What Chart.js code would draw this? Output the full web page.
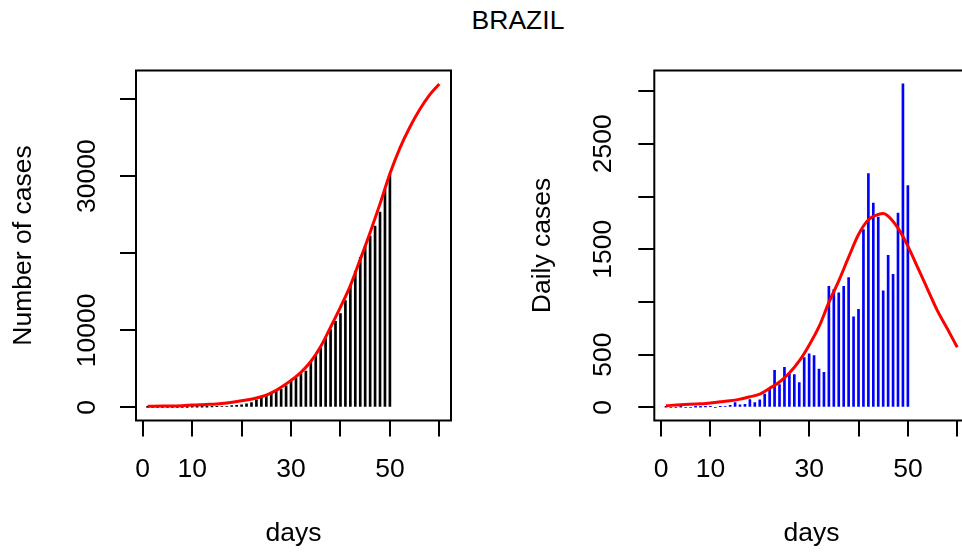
<!DOCTYPE html>
<html>
<head>
<meta charset="utf-8">
<script src="https://cdn.jsdelivr.net/npm/chart.js@4.4.1/dist/chart.umd.min.js"></script>
<style>
html, body { margin: 0; padding: 0; background: #fff; overflow: hidden; width: 962px; height: 555px; }
#title { position: absolute; left: 418px; width: 200px; top: 5px; line-height: 30px; text-align: center;
         font: 26.5px "Liberation Sans", Arial, sans-serif; color: #000; }
canvas { position: absolute; top: 0; }
#cum { left: 0; }
#daily { left: 481px; }
</style>
</head>
<body>
<div id="title">BRAZIL</div>
<canvas id="cum" width="481" height="555"></canvas>
<canvas id="daily" width="500" height="555"></canvas>
<script>
// observed days 1..50
let days = [1,2,3,4,5,6,7,8,9,10,11,12,13,14,15,16,17,18,19,20,21,22,23,24,25,
            26,27,28,29,30,31,32,33,34,35,36,37,38,39,40,41,42,43,44,45,46,47,48,49,50];

let cumCases = [1,1,1,2,2,2,3,4,9,15,15,21,31,51,96,120,148,222,268,340,
                465,637,987,1200,1580,1900,2200,2350,2800,3380,3840,4340,4720,5840,6720,
                7700,8920,10080,11160,12160,13870,15840,17680,19450,20860,22230,23510,25340,28300,30260];

let dailyCases = [1,0,0,1,0,0,1,1,5,6,0,6,10,20,45,24,28,74,46,72,
                  125,172,350,215,379,320,310,235,472,508,490,362,331,1149,1118,
                  1086,1149,1232,859,929,1687,2217,1939,1806,1105,1443,1263,1844,3070,2104];

// fitted curves
let cumFitDays = [1,4,8,10,13,15,17,19,21,23,25,27,28,30,32,34,36,38,40,42,44,46,48,50,52,54,56,58,60];
let cumFit = [150,170,220,300,380,450,580,760,960,1220,1600,2200,2600,3500,4550,5950,7900,10400,
              13000,15800,19200,22700,26400,30300,33600,36300,38600,40500,41950];

let dailyFitDays = [1,4,8,10,12,14,16,18,20,22,24,26,28,30,32,34,36,38,40,42,44,45,46,48,50,52,54,56,58,60];
let dailyFit = [15,25,33,42,52,62,78,100,125,180,240,325,440,590,765,995,1200,1425,1640,1780,
                1830,1838,1815,1700,1530,1325,1120,915,745,570];

let xTicks = [0,10,20,30,40,50,60];
let xLabels = [0,10,30,50];
let cumTicks = [0,10000,20000,30000,40000];
let cumLabels = [0,10000,30000];
let dailyTicks = [0,500,1000,1500,2000,2500,3000];
let dailyLabels = [0,500,1500,2500];

Chart.defaults.font.family = '"Liberation Sans", Arial, sans-serif';
Chart.defaults.font.size = 26.5;
Chart.defaults.color = '#000';

const boxPlugin = {
    id: 'box',
    afterDatasetsDraw(chart) {
        const a = chart.chartArea, ctx = chart.ctx;
        ctx.save();
        ctx.strokeStyle = '#000';
        ctx.lineWidth = 2;
        ctx.strokeRect(a.left, a.top, a.right - a.left, a.bottom - a.top);
        ctx.restore();
    }
};

function makePanel(canvas, p) {
    return new Chart(canvas, {
        type: 'bar',
        data: {
            datasets: [{
                type: 'line',
                data: p.fitX.map((d, i) => ({x: d, y: p.fitY[i]})),
                borderColor: '#ff0000',
                borderWidth: 3,
                pointRadius: 0,
                cubicInterpolationMode: 'monotone',
                order: 0
            }, {
                type: 'bar',
                data: days.map((d, i) => ({x: d, y: p.values[i]})),
                backgroundColor: p.barColor,
                barThickness: 2,
                order: 1
            }]
        },
        options: {
            responsive: false,
            animation: false,
            layout: { padding: { left: 0, top: 70.5, right: p.padRight, bottom: 0 } },
            plugins: { legend: { display: false }, tooltip: { enabled: false } },
            scales: {
                x: {
                    type: 'linear', min: -1.36, max: 62.36, offset: false,
                    afterFit: s => { s.height = 134.5; },
                    afterBuildTicks: s => { s.ticks = xTicks.map(v => ({value: v})); },
                    ticks: {
                        autoSkip: false, maxRotation: 0, padding: 17.6,
                        callback: v => xLabels.includes(v) ? String(v) : ''
                    },
                    grid: { drawOnChartArea: false, tickLength: 16, color: '#000', lineWidth: 2, offset: false },
                    border: { display: false },
                    title: { display: true, text: 'days', padding: { top: 0, bottom: 5.6 } }
                },
                y: {
                    type: 'linear', min: p.yMin, max: p.yMax,
                    afterFit: s => { s.width = p.axisWidth; },
                    afterBuildTicks: s => { s.ticks = p.yTicks.map(v => ({value: v})); },
                    ticks: {
                        autoSkip: false, minRotation: 90, maxRotation: 90, crossAlign: 'center',
                        padding: p.tickPad,
                        callback: v => p.yLabels.includes(v) ? String(v) : ''
                    },
                    grid: { drawOnChartArea: false, tickLength: 16, color: '#000', lineWidth: 2 },
                    border: { display: false },
                    title: { display: true, text: p.yTitle, padding: { top: p.titlePad, bottom: 0 } }
                }
            }
        },
        plugins: [boxPlugin]
    });
}

makePanel(document.getElementById('cum'), {
    values: cumCases, fitX: cumFitDays, fitY: cumFit, barColor: '#000000',
    yMin: -1700, yMax: 43700, yTicks: cumTicks, yLabels: cumLabels,
    axisWidth: 136, padRight: 30, tickPad: -4.8, titlePad: 7.6, yTitle: 'Number of cases'
});

makePanel(document.getElementById('daily'), {
    values: dailyCases, fitX: dailyFitDays, fitY: dailyFit, barColor: '#0000ff',
    yMin: -125, yMax: 3196, yTicks: dailyTicks, yLabels: dailyLabels,
    axisWidth: 173.3, padRight: 12.1, tickPad: 5, titlePad: 45.6, yTitle: 'Daily cases'
});
</script>
</body>
</html>
